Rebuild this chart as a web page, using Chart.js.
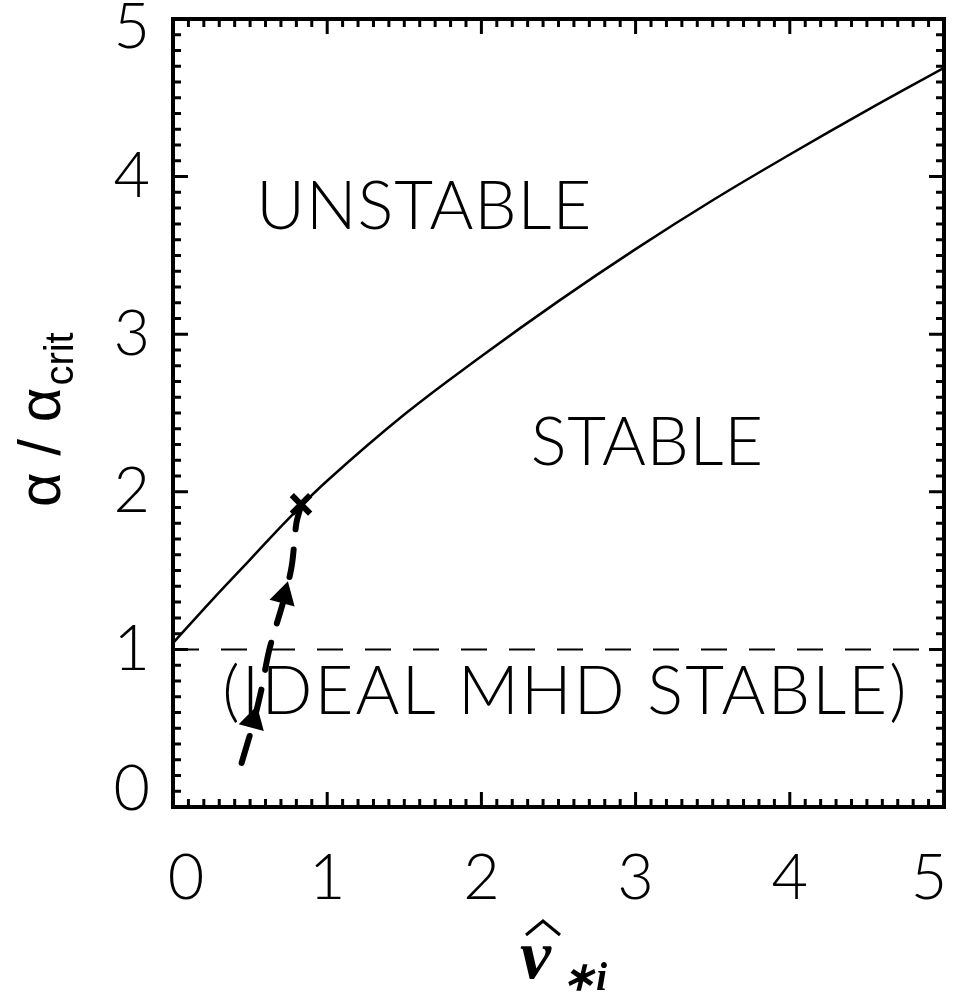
<!DOCTYPE html>
<html>
<head>
<meta charset="utf-8">
<script src="https://cdn.jsdelivr.net/npm/chart.js@4.4.0/dist/chart.umd.min.js"></script>
<style>
  html, body { margin: 0; padding: 0; background: #fff; }
  #wrap { width: 963px; height: 992px; }
</style>
</head>
<body>
<div id="wrap"><canvas id="stabilityChart" width="963" height="992"></canvas></div>
<script>
// Marginal stability boundary (alpha/alpha_crit vs normalised diamagnetic frequency)
const boundaryX = [0, 0.25, 0.5, 0.75, 1, 1.5, 2, 2.5, 3, 3.5, 4, 4.5, 5];
const boundaryY = [1.04, 1.31, 1.57, 1.83, 2.07, 2.49, 2.86, 3.21, 3.54, 3.85, 4.14, 4.42, 4.69];

// Ideal MHD limit
const idealX = [0, 5];
const idealY = [1, 1];

// Trajectory (thick dashed path with arrows)
const pathX = [0.445, 0.52, 0.57, 0.625, 0.72, 0.77, 0.80, 0.83];
const pathY = [0.28, 0.53, 0.73, 1.0, 1.32, 1.53, 1.80, 1.91];
const arrowX = [0.52, 0.72];
const arrowY = [0.55, 1.34];
const markX = [0.83];
const markY = [1.92];

// Axes
const xTicks = [0, 1, 2, 3, 4, 5];
const yTicks = [0, 1, 2, 3, 4, 5];

// Region labels [text, x, y]
const regionLabels = [
    ['UNSTABLE', 0.54, 3.67],
    ['STABLE', 2.32, 2.17],
    ['(IDEAL MHD STABLE)', 0.32, 0.59]
];
const regionWidths = [335, 238, 696];

function toPoints(xs, ys) {
    return xs.map((x, i) => ({ x: x, y: ys[i] }));
}

const frameAndText = {
    id: 'frameAndText',
    beforeDatasetsDraw(chart) {
        const ctx = chart.ctx;
        const xs = chart.scales.x, ys = chart.scales.y;
        ctx.save();
        ctx.fillStyle = '#000';
        ctx.textAlign = 'left';
        ctx.textBaseline = 'alphabetic';
        ctx.font = '300 67px Lato';
        regionLabels.forEach((lab, i) => {
            const w = ctx.measureText(lab[0]).width;
            const n = lab[0].length;
            ctx.letterSpacing = ((regionWidths[i] - w) / (n - 1)).toFixed(2) + 'px';
            ctx.fillText(lab[0], xs.getPixelForValue(lab[1]), ys.getPixelForValue(lab[2]));
        });
        ctx.letterSpacing = '0px';
        ctx.restore();
    },
    afterDraw(chart) {
        const ctx = chart.ctx;
        const a = chart.chartArea;
        const xs = chart.scales.x, ys = chart.scales.y;
        ctx.save();
        ctx.strokeStyle = '#000';
        ctx.fillStyle = '#000';

        // ticks on all four sides, pointing inward
        ctx.lineWidth = 3;
        for (let k = 0; k <= 50; k++) {
            const v = k / 10;
            const len = (k % 10 === 0) ? 15 : 8;
            const px = xs.getPixelForValue(v);
            const py = ys.getPixelForValue(v);
            ctx.beginPath();
            ctx.moveTo(px, a.bottom); ctx.lineTo(px, a.bottom - len);
            ctx.moveTo(px, a.top); ctx.lineTo(px, a.top + len);
            ctx.moveTo(a.left, py); ctx.lineTo(a.left + len, py);
            ctx.moveTo(a.right, py); ctx.lineTo(a.right - len, py);
            ctx.stroke();
        }

        // frame
        ctx.lineWidth = 4;
        ctx.strokeRect(a.left, a.top, a.right - a.left, a.bottom - a.top);

        // tick labels
        ctx.font = '300 63px Lato';
        ctx.textAlign = 'center';
        ctx.textBaseline = 'alphabetic';
        xTicks.forEach(v => {
            let px = xs.getPixelForValue(v);
            px = Math.min(Math.max(px, a.left + 13), a.right - 15);
            ctx.fillText(String(v), px, 899);
        });
        ctx.textAlign = 'right';
        ctx.textBaseline = 'middle';
        yTicks.forEach(v => {
            let py = ys.getPixelForValue(v);
            py = Math.min(Math.max(py, 28), 790);
            ctx.fillText(String(v), 150, py);
        });

        // y title: alpha / alpha_crit, rotated
        ctx.save();
        ctx.translate(60, 507);
        ctx.rotate(-Math.PI / 2);
        ctx.textAlign = 'left';
        ctx.textBaseline = 'alphabetic';
        ctx.font = '60px "Liberation Sans"';
        const main = 'α / α';
        ctx.fillText(main, 0, 0);
        const mw = ctx.measureText(main).width;
        ctx.font = '40px "Liberation Sans"';
        ctx.fillText('crit', mw + 2, 13);
        ctx.restore();

        // x title: v-hat sub *i
        ctx.textAlign = 'left';
        ctx.textBaseline = 'alphabetic';
        ctx.font = 'italic bold 70px "Liberation Serif"';
        ctx.fillText('v', 520, 978);
        ctx.font = 'italic bold 40px "Liberation Serif"';
        ctx.fillText('∗i', 562, 990);
        ctx.lineWidth = 3;
        ctx.beginPath();
        ctx.moveTo(526, 935); ctx.lineTo(543, 921); ctx.lineTo(560, 935);
        ctx.stroke();
        ctx.restore();
    }
};

const ctx = document.getElementById('stabilityChart').getContext('2d');
const chart = new Chart(ctx, {
    type: 'scatter',
    data: {
        datasets: [
            {
                label: 'Stability boundary',
                data: toPoints(boundaryX, boundaryY),
                showLine: true,
                borderColor: '#000',
                borderWidth: 2.5,
                pointRadius: 0,
                tension: 0.4
            },
            {
                label: 'Ideal MHD limit',
                data: toPoints(idealX, idealY),
                showLine: true,
                borderColor: '#000',
                borderWidth: 2,
                borderDash: [26, 22],
                pointRadius: 0
            },
            {
                label: 'Trajectory',
                data: toPoints(pathX, pathY),
                showLine: true,
                borderColor: '#000',
                borderWidth: 6,
                borderDash: [28, 20],
                borderCapStyle: 'round',
                pointRadius: 0,
                tension: 0.3
            },
            {
                label: 'Arrows',
                data: toPoints(arrowX, arrowY),
                pointStyle: 'triangle',
                pointRadius: 13,
                pointRotation: 15,
                backgroundColor: '#000',
                borderColor: '#000',
                borderWidth: 2
            },
            {
                label: 'Marginal point',
                data: toPoints(markX, markY),
                pointStyle: 'crossRot',
                pointRadius: 13,
                borderColor: '#000',
                borderWidth: 6
            }
        ]
    },
    options: {
        responsive: false,
        animation: false,
        layout: { padding: { left: 173, right: 13, top: 10, bottom: 185 } },
        plugins: {
            legend: { display: false },
            tooltip: { enabled: false }
        },
        scales: {
            x: { type: 'linear', min: 0, max: 5, display: false },
            y: { type: 'linear', min: 0, max: 5, display: false }
        }
    },
    plugins: [frameAndText]
});
</script>
</body>
</html>
